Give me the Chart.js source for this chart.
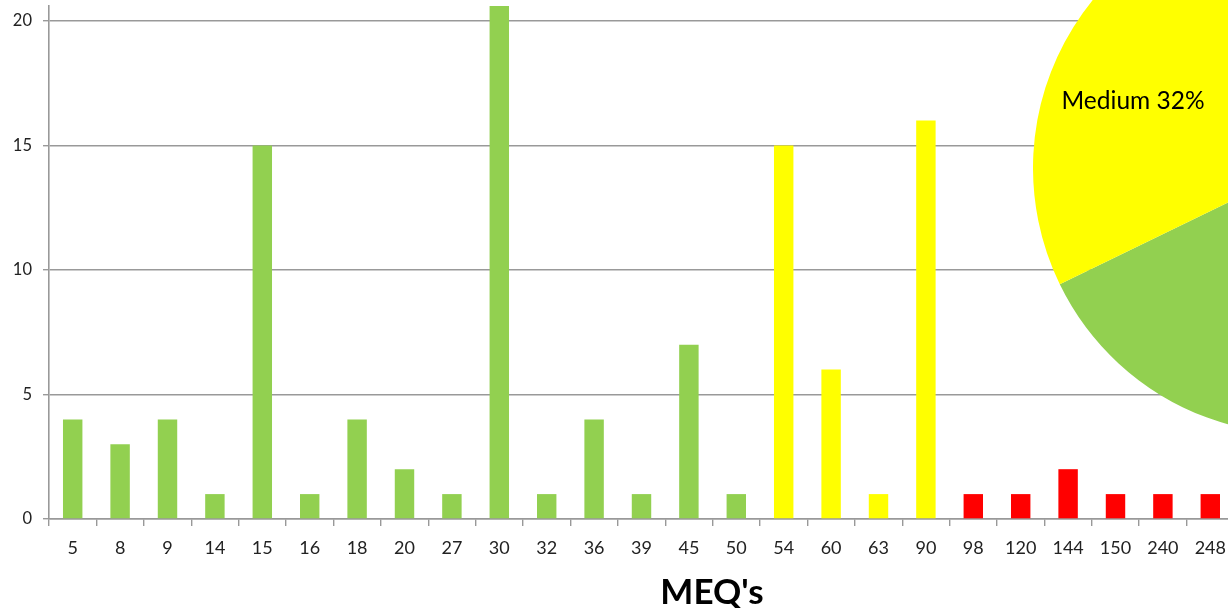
<!DOCTYPE html>
<html>
<head>
<meta charset="utf-8">
<script src="https://cdn.jsdelivr.net/npm/chart.js@4.4.1/dist/chart.umd.min.js"></script>
<style>
  html, body { margin: 0; padding: 0; background: #fff; overflow: hidden; }
  body { width: 1228px; height: 608px; position: relative; font-family: Lato, "Open Sans", sans-serif; }
  #barWrap { position: absolute; left: 0; top: 0; width: 1240px; height: 608px; }
  #pieWrap { position: absolute; left: 1033px; top: -98px; width: 532px; height: 532px; }
  #xTitle { position: absolute; left: 562px; width: 300px; top: 569px; text-align: center;
            font: bold 35px Lato, "Open Sans", sans-serif; color: #000; }
</style>
</head>
<body>
<div id="barWrap"><canvas id="meqChart"></canvas></div>
<div id="pieWrap"><canvas id="levelPie"></canvas></div>
<div id="xTitle">MEQ's</div>
<script>
// --- DATA ---
const meqLabels = ['5', '8', '9', '14', '15', '16', '18', '20', '27', '30', '32', '36', '39', '45', '50',
                   '54', '60', '63', '90', '98', '120', '144', '150', '240', '248'];
// bar for 30 runs off the top of the plot; 24 keeps the pie split at 32%
const meqCounts = [4, 3, 4, 1, 15, 1, 4, 2, 1, 24, 1, 4, 1, 7, 1,
                   15, 6, 1, 16, 1, 1, 2, 1, 1, 1];
const meqLevels = ['Low', 'Low', 'Low', 'Low', 'Low', 'Low', 'Low', 'Low', 'Low', 'Low', 'Low', 'Low', 'Low', 'Low', 'Low',
                   'Medium', 'Medium', 'Medium', 'Medium', 'High', 'High', 'High', 'High', 'High', 'High'];
const yTicks = [0, 5, 10, 15, 20];
const yMax = 20.6;

const levelColors = { Low: '#92D050', Medium: '#FFFF00', High: '#FF0000' };
const pieOrder = ['High', 'Low', 'Medium'];

document.addEventListener('DOMContentLoaded', () => {
    const gridGray = '#999999';
    const labelFont = 'Lato, "Open Sans", sans-serif';

    // no extra room for edge labels, the plot area is fixed by hand
    const noPad = (scale) => {
        scale.paddingTop = 0;
        scale.paddingBottom = 0;
        scale.paddingLeft = 0;
        scale.paddingRight = 0;
    };

    // --- BAR CHART ---
    new Chart(document.getElementById('meqChart'), {
        type: 'bar',
        data: {
            labels: meqLabels,
            datasets: [{
                data: meqCounts,
                backgroundColor: meqLevels.map(l => levelColors[l]),
                borderWidth: 0,
                barPercentage: 0.41,
                categoryPercentage: 1
            }]
        },
        options: {
            responsive: true,
            maintainAspectRatio: false,
            animation: false,
            layout: { padding: { top: 6, right: 6, left: 0, bottom: 0 } },
            plugins: { legend: { display: false }, tooltip: { enabled: false } },
            scales: {
                x: {
                    afterFit: (scale) => { scale.height = 89; noPad(scale); },
                    grid: { display: true, drawOnChartArea: false, drawTicks: true, tickLength: 7,
                            color: gridGray, lineWidth: 1.4, offset: true },
                    border: { display: true, color: gridGray, width: 1.6 },
                    ticks: { color: '#222', font: { family: labelFont, size: 18 }, padding: 11,
                             maxRotation: 0, autoSkip: false }
                },
                y: {
                    min: 0,
                    max: yMax,
                    afterFit: (scale) => { scale.width = 49; noPad(scale); },
                    afterBuildTicks: (scale) => { scale.ticks = yTicks.map(v => ({ value: v })); },
                    grid: { color: gridGray, lineWidth: 1.4, tickLength: 6 },
                    border: { display: true, color: gridGray, width: 1.6 },
                    ticks: { color: '#222', font: { family: labelFont, size: 16.5 }, padding: 11 }
                }
            }
        }
    });

    // --- PIE OVERLAY ---
    const pieValues = pieOrder.map(level =>
        meqCounts.reduce((sum, v, i) => sum + (meqLevels[i] === level ? v : 0), 0));
    const pieTotal = pieValues.reduce((a, b) => a + b, 0);

    const pieLabelPlugin = {
        id: 'pieLabel',
        afterDatasetsDraw(chart) {
            const arc = chart.getDatasetMeta(0).data[pieOrder.indexOf('Medium')];
            const r = arc.outerRadius;
            const pct = Math.round(pieValues[pieOrder.indexOf('Medium')] / pieTotal * 100);
            const c = chart.ctx;
            c.save();
            c.fillStyle = '#000';
            c.font = '24.5px ' + labelFont;
            c.textAlign = 'center';
            c.textBaseline = 'middle';
            c.fillText('Medium ' + pct + '%', arc.x - 0.624 * r, arc.y - 0.252 * r);
            c.restore();
        }
    };

    new Chart(document.getElementById('levelPie'), {
        type: 'pie',
        data: {
            labels: pieOrder,
            datasets: [{
                data: pieValues,
                backgroundColor: pieOrder.map(l => levelColors[l]),
                borderWidth: 0
            }]
        },
        options: {
            responsive: true,
            maintainAspectRatio: false,
            animation: false,
            layout: { padding: 0 },
            plugins: { legend: { display: false }, tooltip: { enabled: false } }
        },
        plugins: [pieLabelPlugin]
    });
});
</script>
</body>
</html>
